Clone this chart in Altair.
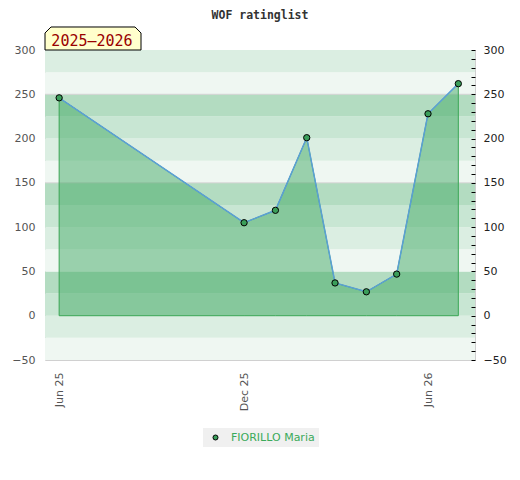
import altair as alt
import pandas as pd

title_text = "WOF ratinglist"
season = "2025–2026"
player = "FIORILLO Maria"

dates = ["2025-06-01", "2025-12-01", "2026-01-01", "2026-02-01", "2026-03-01",
         "2026-04-01", "2026-05-01", "2026-06-01", "2026-07-01"]
ratings = [246, 105, 119, 201, 37, 27, 47, 228, 262]

tick_dates = ["2025-06-01", "2025-12-01", "2026-06-01"]
y_labels = [-50, 0, 50, 100, 150, 200, 250, 300]
y_minor = list(range(-50, 301, 10))

band_lo = [-50, -25, 0, 25, 50, 75, 100, 125, 150, 175, 200, 225, 250, 275]
band_hi = [-25, 0, 25, 50, 75, 100, 125, 150, 175, 200, 225, 250, 275, 300]
band_shade = ["#eff7f2", "#dbeee2", "#c8e6d3", "#b3dcc1",
              "#eff7f2", "#dbeee2", "#c8e6d3", "#b3dcc1",
              "#eff7f2", "#dbeee2", "#c8e6d3", "#b3dcc1",
              "#eff7f2", "#dbeee2"]
grid_values = [250, 150]

df = pd.DataFrame({"date": pd.to_datetime(dates), "rating": ratings, "player": player})
bands = pd.DataFrame({"lo": band_lo, "hi": band_hi, "shade": band_shade})
grid = pd.DataFrame({"v": grid_values})


def dt(s):
    t = pd.Timestamp(s)
    return alt.DateTime(year=t.year, month=t.month, date=t.day)


xscale = alt.Scale(domain=[alt.DateTime(year=2025, month=5, date=18, hours=0),
                           alt.DateTime(year=2026, month=7, date=17, hours=12)])
yscale = alt.Scale(domain=[-50, 300], nice=False, zero=False)

xaxis = alt.Axis(values=[dt(s) for s in tick_dates], format="%b %y", labelAngle=270,
                 ticks=False, tickSize=0, domain=False, grid=False, labelPadding=12,
                 labelColor="#555555", labelFont="DejaVu Sans", labelFontSize=11,
                 labelFlush=False, labelOverlap=False, title=None)
left_axis = alt.Axis(values=y_labels, ticks=False, tickSize=0, domain=False, grid=False,
                     labelPadding=10, labelColor="#555555", labelFont="DejaVu Sans",
                     labelFontSize=11, labelOverlap=False, title=None)
right_axis = alt.Axis(orient="right", values=y_minor,
                      labelExpr="datum.value % 50 == 0 ? datum.label : ''",
                      tickSize=4, offset=-4, tickColor="black", tickWidth=1,
                      domain=False, grid=False, labelPadding=8, labelColor="#222222",
                      labelFont="DejaVu Sans", labelFontSize=11, labelOverlap=False,
                      title=None, zindex=1)

X = alt.X("date:T", scale=xscale, axis=xaxis)

band_layer = alt.Chart(bands).mark_rect().encode(
    x=alt.value(0), x2=alt.value("width"),
    y=alt.Y("lo:Q", scale=yscale, axis=left_axis), y2="hi:Q",
    color=alt.Color("shade:N", scale=None),
)
grid_layer = alt.Chart(grid).mark_rule(color="#d3d3d3", strokeWidth=1).encode(
    y=alt.Y("v:Q", scale=yscale, axis=left_axis)
)
area_layer = alt.Chart(df).mark_area(
    fill="#44aa66", fillOpacity=0.5, stroke="#3aa655", strokeWidth=1
).encode(x=X, y=alt.Y("rating:Q", scale=yscale, axis=left_axis), y2=alt.datum(0))
line_layer = alt.Chart(df).mark_line(color="#5b9fd6", strokeWidth=1.5).encode(
    x=X, y=alt.Y("rating:Q", scale=yscale, axis=left_axis)
)
point_layer = alt.Chart(df).mark_point(
    filled=True, size=40, stroke="black", strokeWidth=1, opacity=1
).encode(
    x=X, y=alt.Y("rating:Q", scale=yscale, axis=left_axis),
    color=alt.Color("player:N", scale=alt.Scale(domain=[player], range=["#3a9e5a"]),
                    legend=alt.Legend(title=None, orient="none", legendX=158, legendY=378,
                                      fillColor="#f0f0f0", padding=4, symbolOffset=3,
                                      symbolType="circle", symbolSize=25,
                                      symbolStrokeColor="black", symbolStrokeWidth=1,
                                      labelColor="#3aaa5a", labelFont="DejaVu Sans",
                                      labelFontSize=11, labelOffset=10)),
)

title_layer = alt.Chart(pd.DataFrame({"t": [title_text]})).mark_text(
    font="DejaVu Sans Mono", fontSize=11.5, fontWeight="bold", color="#333333",
    align="center", baseline="alphabetic"
).encode(x=alt.value(215), y=alt.value(-31.5), text="t:N")

box_path = "M-1,0.2396L-1,-0.1146L-0.875,-0.2396L0.875,-0.2396L1,-0.1146L1,0.2396Z"
box_layer = alt.Chart(pd.DataFrame({"s": [season]})).mark_point(
    shape=box_path, size=9216, filled=True, fill="#ffffcc", stroke="black",
    strokeWidth=1, opacity=1
).encode(x=alt.value(48), y=alt.value(-11.5))
season_layer = alt.Chart(pd.DataFrame({"s": [season]})).mark_text(
    font="DejaVu Sans Mono", fontSize=15, color="#990000", align="center",
    baseline="alphabetic"
).encode(x=alt.value(47), y=alt.value(-4.5), text="s:N")

left = alt.layer(band_layer, grid_layer, area_layer, line_layer, point_layer,
                 title_layer, box_layer, season_layer)
right = alt.Chart(df).mark_point(opacity=0).encode(
    x=X, y=alt.Y("rating:Q", scale=yscale, axis=right_axis)
)

chart = alt.layer(left, right).resolve_scale(y="independent").properties(
    width=430, height=310,
    autosize=alt.AutoSizeParams(type="none"),
    padding={"left": 37, "top": 42, "right": 34, "bottom": 100},
).configure_view(stroke="#d0d0d0", strokeWidth=1)

chart.save("out.html", embed_options={"renderer": "svg", "actions": False})
